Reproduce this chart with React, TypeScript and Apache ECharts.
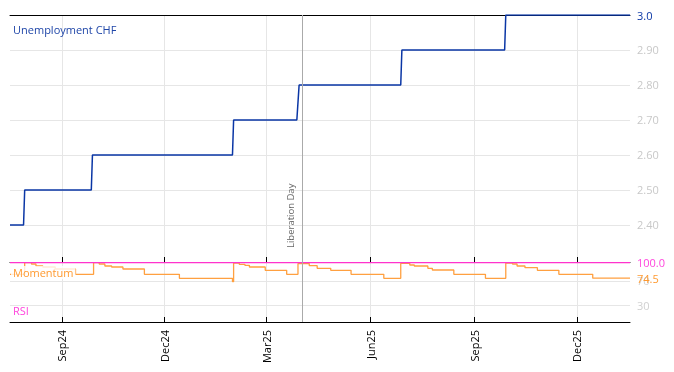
import React, { useEffect, useRef } from 'react';
import * as echarts from 'echarts';

// ---- data ----
const unemploymentDates = [
  '2024-07-17', '2024-07-29', '2024-07-30', '2024-09-27', '2024-09-28',
  '2025-01-30', '2025-01-31', '2025-03-28', '2025-03-30', '2025-06-28',
  '2025-06-29', '2025-09-28', '2025-09-29', '2026-01-17',
];
const unemploymentValues = [
  2.4, 2.4, 2.5, 2.5, 2.6,
  2.6, 2.7, 2.7, 2.8, 2.8,
  2.9, 2.9, 3.0, 3.0,
];

const momentumDates = [
  '2024-07-17', '2024-07-30', '2024-08-05', '2024-08-09', '2024-08-15', '2024-08-26', '2024-09-13',
  '2024-09-29', '2024-10-04', '2024-10-09', '2024-10-15', '2024-10-25', '2024-11-13', '2024-12-14', '2025-01-30',
  '2025-01-31', '2025-02-05', '2025-02-10', '2025-02-14', '2025-02-28', '2025-03-19',
  '2025-03-29', '2025-04-08', '2025-04-15', '2025-04-27', '2025-05-15', '2025-06-13',
  '2025-06-28', '2025-07-06', '2025-07-10', '2025-07-22', '2025-07-26', '2025-08-14', '2025-09-11',
  '2025-09-29', '2025-10-05', '2025-10-09', '2025-10-16', '2025-10-27', '2025-11-15', '2025-12-15', '2026-01-17',
];
const momentumValues = [
  80.9, 100, 97.7, 94.5, 92.8, 89.6, 80.9,
  100, 97.7, 94.5, 92.8, 89.6, 80.9, 74.4, 68.8,
  99.4, 97.2, 95.6, 92.8, 87.4, 80.9,
  98.5, 95.0, 90.7, 87.4, 80.9, 74.4,
  98.9, 96.1, 94.5, 90.7, 87.9, 80.9, 74.4,
  99.4, 97.7, 94.5, 91.7, 87.4, 80.9, 74.5, 74.5,
];

const rsiDates = ['2024-07-17', '2026-01-17'];
const rsiValues = [100, 100];

const xTickDates = ['2024-09-01', '2024-12-01', '2025-03-01', '2025-06-01', '2025-09-01', '2025-12-01'];
const topYTicks = [2.4, 2.5, 2.6, 2.7, 2.8, 2.9];
const bottomYTicks = [30, 70];
const eventDate = '2025-04-02';
const eventLabel = 'Liberation Day';
const xMin = '2024-07-17';
const xMax = '2026-01-17';

const MONTHS = ['Jan', 'Feb', 'Mar', 'Apr', 'May', 'Jun', 'Jul', 'Aug', 'Sep', 'Oct', 'Nov', 'Dec'];

function ts(s: string): number {
  const [y, m, d] = s.split('-').map(Number);
  return new Date(y, m - 1, d).getTime();
}
function zip(dates: string[], values: number[]) {
  return dates.map((d, i) => [ts(d), values[i]]);
}

const FONT = 'Open Sans';
const BLUE = '#0a36a5';
const ORANGE = '#ffa040';
const MAGENTA = '#ff33cc';

export default function App() {
  const ref = useRef<HTMLDivElement>(null);
  useEffect(() => {
    const chart = echarts.init(ref.current!, null, { renderer: 'svg' });
    const tickTs = xTickDates.map(ts);
    const xCommon = {
      type: 'value',
      min: ts(xMin),
      max: ts(xMax),
      scale: true,
    };
    chart.setOption({
      animation: false,
      textStyle: { fontFamily: FONT },
      grid: [
        { left: 10, right: 44, top: 15, height: 247 },
        { left: 10, right: 44, top: 262, height: 60 },
      ],
      xAxis: [
        {
          ...xCommon,
          gridIndex: 0,
          position: 'bottom',
          axisLine: { onZero: false, lineStyle: { color: '#000', width: 1 } },
          axisTick: { inside: true, length: 5, customValues: tickTs, lineStyle: { color: '#000' } },
          axisLabel: { show: false, customValues: tickTs },
          splitLine: { show: true, lineStyle: { color: '#e6e6e6', width: 1 } },
        },
        {
          ...xCommon,
          gridIndex: 1,
          position: 'bottom',
          axisLine: { onZero: false, lineStyle: { color: '#000', width: 1 } },
          axisTick: { inside: true, length: 5, customValues: tickTs, lineStyle: { color: '#000' } },
          axisLabel: {
            customValues: tickTs,
            rotate: 90,
            margin: 8,
            color: '#000',
            fontSize: 11,
            fontFamily: FONT,
            formatter: (v: number) => {
              const d = new Date(v);
              return MONTHS[d.getMonth()] + String(d.getFullYear()).slice(2);
            },
          },
          splitLine: { show: true, lineStyle: { color: '#e6e6e6', width: 1 } },
        },
        {
          ...xCommon,
          gridIndex: 0,
          position: 'top',
          axisLine: { onZero: false, lineStyle: { color: '#000', width: 1 } },
          axisTick: { show: false },
          axisLabel: { show: false },
          splitLine: { show: false },
        },
      ],
      yAxis: [
        {
          type: 'value',
          gridIndex: 0,
          position: 'right',
          min: 2.294,
          max: 3.0,
          axisLine: { show: false },
          axisTick: { show: false, customValues: topYTicks },
          axisLabel: {
            customValues: topYTicks,
            color: '#c8c8c8',
            fontSize: 11,
            fontFamily: FONT,
            margin: 7,
            formatter: (v: number) => v.toFixed(2),
          },
          splitLine: { show: true, lineStyle: { color: '#e6e6e6', width: 1 } },
        },
        {
          type: 'value',
          gridIndex: 1,
          position: 'right',
          min: 3,
          max: 101,
          axisLine: { show: false },
          axisTick: { show: false, customValues: bottomYTicks },
          axisLabel: {
            customValues: bottomYTicks,
            color: '#d0d0d0',
            fontSize: 11,
            fontFamily: FONT,
            margin: 7,
          },
          splitLine: { show: true, lineStyle: { color: '#e6e6e6', width: 1 } },
        },
      ],
      series: [
        {
          name: 'Unemployment CHF',
          type: 'line',
          xAxisIndex: 0,
          yAxisIndex: 0,
          data: zip(unemploymentDates, unemploymentValues),
          showSymbol: false,
          lineStyle: { color: BLUE, width: 1.5 },
          itemStyle: { color: BLUE },
          endLabel: {
            show: true,
            distance: 7,
            color: BLUE,
            fontSize: 11,
            fontFamily: FONT,
            formatter: (p: any) => Number(p.value[1]).toFixed(1),
          },
          markLine: {
            silent: true,
            symbol: ['none', 'none'],
            lineStyle: { color: '#aaaaaa', width: 1, type: 'solid' },
            label: {
              show: true,
              position: 'insideStartTop',
              distance: [14, 7],
              formatter: eventLabel,
              color: '#666',
              fontSize: 9.5,
              fontFamily: FONT,
            },
            data: [{ xAxis: ts(eventDate) }],
          },
          z: 3,
        },
        {
          name: 'Momentum',
          type: 'line',
          xAxisIndex: 1,
          yAxisIndex: 1,
          step: 'end',
          data: zip(momentumDates, momentumValues),
          showSymbol: false,
          lineStyle: { color: ORANGE, width: 1.3 },
          itemStyle: { color: ORANGE },
          endLabel: {
            show: true,
            distance: 7,
            color: '#ff9a30',
            fontSize: 11,
            fontFamily: FONT,
            formatter: (p: any) => Number(p.value[1]).toFixed(1),
          },
          z: 2,
        },
        {
          name: 'RSI',
          type: 'line',
          xAxisIndex: 1,
          yAxisIndex: 1,
          data: zip(rsiDates, rsiValues),
          showSymbol: false,
          lineStyle: { color: MAGENTA, width: 1.2 },
          itemStyle: { color: MAGENTA },
          endLabel: {
            show: true,
            distance: 7,
            color: '#ff44dd',
            fontSize: 11,
            fontFamily: FONT,
            formatter: (p: any) => Number(p.value[1]).toFixed(1),
          },
          markLine: {
            silent: true,
            symbol: ['none', 'none'],
            lineStyle: { color: '#aaaaaa', width: 1, type: 'solid' },
            label: { show: false },
            data: [{ xAxis: ts(eventDate) }],
          },
          z: 3,
        },
      ],
      graphic: [
        {
          type: 'text',
          left: 13,
          top: 24,
          z: 10,
          style: { text: 'Unemployment CHF', fill: '#1f46a8', font: `11px "${FONT}"` },
        },
        {
          type: 'text',
          left: 11,
          top: 266,
          z: 10,
          style: {
            text: 'Momentum',
            fill: '#ff9a30',
            font: `11px "${FONT}"`,
            backgroundColor: 'rgba(255,255,255,0.8)',
            padding: [1, 2],
          },
        },
        {
          type: 'text',
          left: 13,
          top: 305,
          z: 10,
          style: { text: 'RSI', fill: '#ff44dd', font: `11px "${FONT}"` },
        },
      ],
    });
    return () => chart.dispose();
  }, []);
  return <div ref={ref} style={{ position: 'fixed', left: 0, top: 0, width: 674, height: 372 }} />;
}
